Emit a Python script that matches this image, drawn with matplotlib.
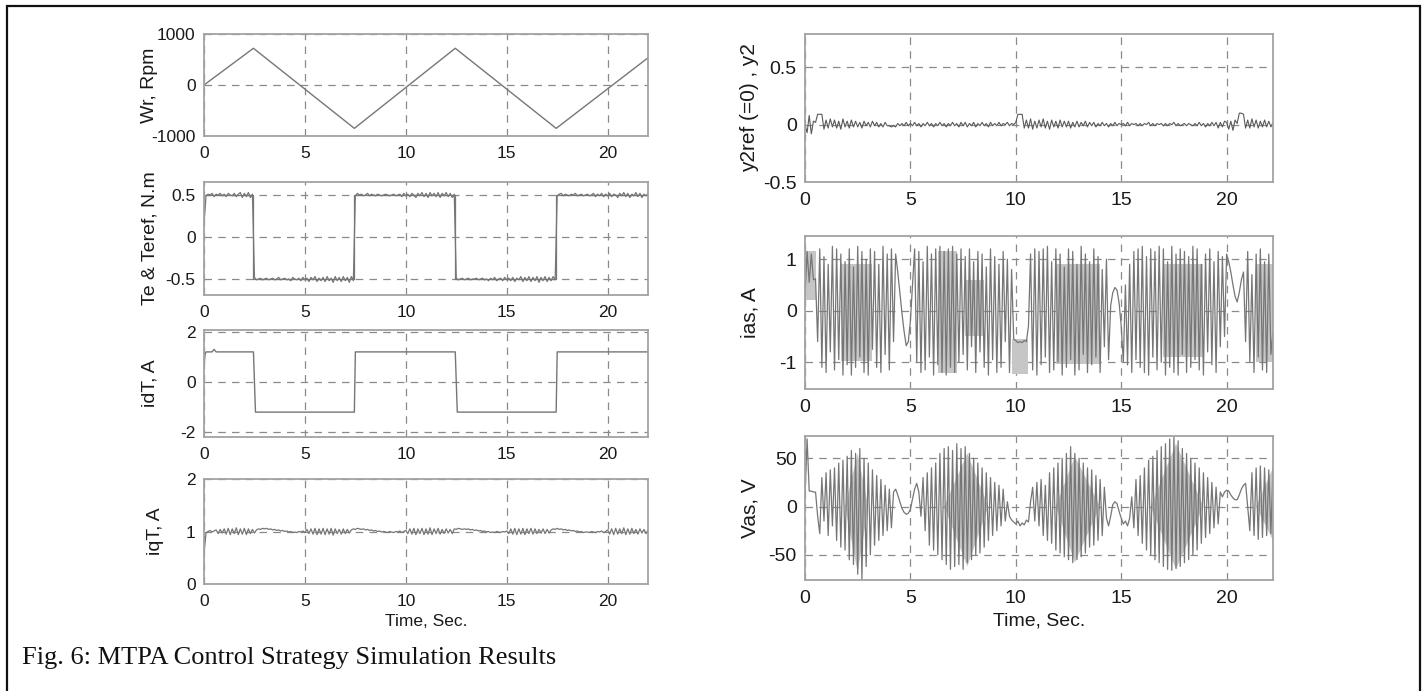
"""
plot.py -- MTPA control strategy simulation results (Fig. 6)
Seven MATLAB-style traces, 4 on the left, 3 on the right.
"""

import numpy as np
import matplotlib.pyplot as plt
from matplotlib.patches import Rectangle

plt.rcParams["font.family"] = ["Liberation Sans", "DejaVu Sans"]
plt.rcParams["axes.unicode_minus"] = False

# ----------------------------------------------------------------------------
# DATA
# ----------------------------------------------------------------------------

# common sample grid for the noisy traces, 0.1 s step
t_s = np.linspace(0.0, 22.2, 223)

# rotor speed, triangle wave (break points)
wr_t = [0.0, 2.45, 7.45, 12.45, 17.45, 22.2]
wr_v = [0.0, 720.0, -850.0, 720.0, -850.0, 594.0]

# torque reference (square wave)
teref_t = [0.1, 2.45, 2.45, 7.45, 7.45, 12.45, 12.45, 17.45, 17.45, 22.2]
teref_v = [0.5, 0.5, -0.5, -0.5, 0.5, 0.5, -0.5, -0.5, 0.5, 0.5]

# electromagnetic torque, sampled every 0.1 s
te = [
    0.15, 0.49, 0.51, 0.50, 0.52, 0.48, 0.51, 0.50, 0.52, 0.49,
    0.51, 0.48, 0.52, 0.50, 0.49, 0.52, 0.48, 0.51, 0.53, 0.47,
    0.52, 0.48, 0.53, 0.47, 0.51, -0.48, -0.51, -0.50, -0.49, -0.51,
    -0.50, -0.49, -0.51, -0.50, -0.49, -0.51, -0.50, -0.48, -0.51, -0.50,
    -0.49, -0.51, -0.50, -0.52, -0.48, -0.50, -0.51, -0.49, -0.52, -0.48,
    -0.51, -0.49, -0.53, -0.48, -0.51, -0.47, -0.53, -0.49, -0.52, -0.48,
    -0.53, -0.47, -0.52, -0.49, -0.54, -0.47, -0.52, -0.48, -0.53, -0.47,
    -0.52, -0.48, -0.54, -0.47, -0.52, 0.49, 0.52, 0.50, 0.51, 0.49,
    0.50, 0.52, 0.49, 0.51, 0.50, 0.49, 0.51, 0.50, 0.49, 0.50,
    0.51, 0.50, 0.49, 0.50, 0.51, 0.49, 0.50, 0.51, 0.48, 0.52,
    0.49, 0.51, 0.48, 0.52, 0.50, 0.47, 0.52, 0.49, 0.53, 0.48,
    0.52, 0.47, 0.53, 0.49, 0.52, 0.48, 0.53, 0.47, 0.52, 0.49,
    0.53, 0.48, 0.52, 0.47, 0.51, -0.49, -0.51, -0.50, -0.49, -0.51,
    -0.50, -0.49, -0.51, -0.50, -0.50, -0.49, -0.51, -0.50, -0.49, -0.51,
    -0.50, -0.52, -0.49, -0.51, -0.48, -0.52, -0.50, -0.49, -0.52, -0.48,
    -0.51, -0.49, -0.52, -0.48, -0.53, -0.49, -0.51, -0.47, -0.53, -0.48,
    -0.52, -0.47, -0.53, -0.48, -0.52, -0.47, -0.54, -0.48, -0.52, -0.47,
    -0.53, -0.48, -0.52, -0.47, -0.51, 0.49, 0.51, 0.52, 0.49, 0.51,
    0.50, 0.49, 0.51, 0.50, 0.52, 0.49, 0.50, 0.51, 0.49, 0.50,
    0.51, 0.49, 0.50, 0.52, 0.48, 0.51, 0.49, 0.52, 0.48, 0.51,
    0.49, 0.52, 0.48, 0.51, 0.50, 0.47, 0.52, 0.49, 0.53, 0.48,
    0.52, 0.47, 0.51, 0.49, 0.53, 0.48, 0.52, 0.47, 0.51, 0.49,
    0.52, 0.48, 0.50,
]

# d-axis current (break points)
idt_t = [0.0, 0.05, 0.1, 0.4, 0.5, 0.6, 2.45, 2.55, 7.45, 7.5, 12.45, 12.55,
         17.45, 17.5, 22.2]
idt_v = [0.6, 1.1, 1.22, 1.22, 1.32, 1.22, 1.22, -1.2, -1.2, 1.22, 1.22, -1.2,
         -1.2, 1.22, 1.22]

# q-axis current, sampled every 0.1 s
iqt = [
    0.58, 0.97, 1.00, 1.02, 0.99, 1.01, 1.03, 0.96, 1.04, 0.97,
    1.05, 0.95, 1.06, 0.94, 1.05, 0.96, 1.07, 0.94, 1.05, 0.95,
    1.06, 0.94, 1.05, 0.96, 1.04, 0.97, 1.03, 1.05, 1.04, 1.06,
    1.05, 1.06, 1.04, 1.05, 1.03, 1.04, 1.02, 1.03, 1.01, 1.02,
    1.00, 1.01, 0.99, 1.00, 0.98, 0.99, 0.98, 1.00, 0.99, 1.01,
    0.98, 1.04, 0.96, 1.05, 0.95, 1.06, 0.94, 1.05, 0.95, 1.06,
    0.94, 1.05, 0.95, 1.06, 0.93, 1.05, 0.96, 1.04, 0.95, 1.05,
    0.96, 1.04, 0.97, 1.03, 1.05, 1.04, 1.06, 1.05, 1.04, 1.05,
    1.03, 1.04, 1.02, 1.03, 1.01, 1.02, 1.00, 1.01, 0.99, 1.00,
    0.99, 0.98, 1.00, 0.99, 0.98, 1.00, 0.99, 1.01, 0.98, 1.00,
    1.02, 0.96, 1.05, 0.95, 1.06, 0.94, 1.05, 0.96, 1.06, 0.94,
    1.05, 0.95, 1.07, 0.94, 1.05, 0.96, 1.06, 0.95, 1.04, 0.96,
    1.05, 0.97, 1.04, 0.96, 1.05, 1.04, 1.06, 1.05, 1.04, 1.05,
    1.04, 1.05, 1.03, 1.04, 1.02, 1.03, 1.01, 1.02, 1.00, 1.01,
    0.99, 1.00, 0.98, 0.99, 0.98, 1.00, 0.99, 0.98, 1.00, 0.99,
    1.01, 0.96, 1.05, 0.95, 1.06, 0.94, 1.05, 0.95, 1.06, 0.94,
    1.05, 0.96, 1.06, 0.95, 1.05, 0.96, 1.04, 0.97, 1.05, 0.96,
    1.04, 0.97, 1.03, 1.05, 1.04, 1.06, 1.04, 1.05, 1.03, 1.04,
    1.02, 1.03, 1.01, 1.02, 1.00, 1.01, 0.99, 1.00, 0.98, 0.99,
    0.99, 0.98, 1.00, 0.99, 0.98, 1.00, 0.99, 1.01, 0.98, 1.00,
    1.03, 0.95, 1.05, 0.94, 1.06, 0.95, 1.05, 0.96, 1.07, 0.94,
    1.05, 0.95, 1.06, 0.96, 1.04, 0.95, 1.05, 0.97, 1.04, 0.96,
    1.03, 0.98, 1.00,
]

# y2 output (reference y2ref = 0), sampled every 0.1 s
y2 = [
    0.00, -0.07, 0.08, -0.08, 0.03, 0.02, 0.09, 0.09, 0.09, -0.04,
    0.04, -0.03, 0.05, -0.02, 0.04, -0.03, 0.03, -0.04, 0.05, -0.02,
    0.03, -0.03, 0.04, -0.02, 0.03, -0.02, 0.02, -0.03, 0.03, -0.01,
    0.02, -0.02, 0.03, -0.01, 0.02, -0.02, 0.01, -0.02, 0.02, -0.01,
    -0.01, -0.02, -0.01, -0.02, 0.01, -0.01, 0.01, -0.01, 0.02, -0.01,
    0.01, -0.01, 0.02, -0.01, 0.01, -0.02, 0.01, -0.01, 0.02, -0.01,
    0.01, -0.02, 0.01, -0.01, 0.02, -0.01, 0.01, -0.02, 0.01, -0.01,
    0.02, -0.01, 0.01, -0.02, 0.02, -0.01, 0.02, -0.02, 0.01, -0.01,
    0.02, -0.02, 0.01, -0.01, 0.02, -0.01, 0.01, -0.02, 0.02, -0.01,
    0.01, -0.01, 0.02, -0.01, 0.01, 0.00, 0.02, -0.01, 0.01, 0.00,
    0.02, 0.09, 0.09, 0.09, -0.03, 0.04, -0.03, 0.05, -0.04, 0.03,
    -0.03, 0.04, -0.02, 0.05, -0.03, 0.03, -0.04, 0.04, -0.02, 0.03,
    -0.03, 0.04, -0.02, 0.03, -0.02, 0.03, -0.03, 0.02, -0.02, 0.03,
    -0.02, 0.02, -0.01, 0.03, -0.02, 0.02, -0.01, 0.02, -0.02, 0.01,
    -0.01, 0.02, -0.01, 0.01, -0.02, 0.01, -0.01, 0.02, -0.01, 0.01,
    0.00, 0.01, -0.01, 0.02, -0.01, 0.01, 0.00, 0.01, -0.01, 0.01,
    -0.01, 0.01, 0.00, 0.02, -0.01, 0.01, -0.01, 0.01, 0.00, 0.01,
    -0.01, 0.01, -0.01, 0.01, 0.00, 0.02, -0.01, 0.01, -0.01, 0.00,
    0.01, -0.01, 0.01, 0.00, -0.01, 0.01, -0.01, 0.02, -0.01, 0.01,
    -0.02, 0.01, -0.01, 0.02, -0.01, 0.02, -0.03, 0.02, -0.02, 0.03,
    0.02, -0.04, 0.03, -0.05, 0.04, 0.01, 0.10, 0.10, 0.09, -0.03,
    0.04, -0.03, 0.05, -0.02, 0.04, -0.03, 0.03, -0.02, 0.04, -0.02,
    0.03, -0.02, 0.02,
]

# phase current ias, sampled every 0.1 s
ias = [
    0.30, 1.15, 0.55, 1.10, 0.60, 0.62, -0.60, 1.20, -1.10, 1.05,
    -1.20, 0.90, -0.80, 1.25, -1.15, 1.20, -0.95, 1.10, -1.25, 0.95,
    -1.05, 1.20, -1.25, 0.85, -1.10, 1.25, -0.90, 1.15, -1.20, 1.00,
    -1.25, 1.20, -0.75, 1.15, -1.10, 0.90, -1.20, 1.25, -0.85, 1.10,
    -1.15, 1.20, -0.60, 1.10, 0.75, 0.35, -0.05, -0.40, -0.68, -0.60,
    -0.20, 0.50, 1.20, -1.00, 1.15, -1.20, 0.95, -1.15, 1.25, -0.90,
    1.10, -1.25, 1.20, -1.05, 1.25, -1.20, 1.15, -1.25, 1.20, -1.10,
    1.25, -1.20, 1.10, -1.00, 1.20, -0.85, 1.05, -1.15, 1.20, -0.70,
    0.95, -1.20, 1.15, -0.80, 1.10, -1.10, 0.85, -1.25, 1.20, -0.95,
    1.05, -1.20, 0.90, -1.10, 1.15, -0.60, 1.00, -1.20, 0.80, -0.55,
    -0.58, -0.62, -0.60, -0.62, -0.58, -0.60, -0.30, 1.10, -1.15, 1.20,
    -1.25, 1.15, -1.05, 1.20, -0.90, 1.25, -1.20, 0.95, -1.15, 1.20,
    -1.00, 1.10, -1.25, 0.85, -1.10, 1.20, -0.95, 1.15, -1.25, 0.90,
    -1.15, 1.25, -0.85, 1.10, -1.20, 0.95, -1.05, 1.20, -0.90, 1.05,
    -1.20, 0.80, -0.70, 1.00, -0.95, 0.10, 0.35, 0.45, 0.40, 0.15,
    -0.30, -1.00, 0.50, -1.05, 0.90, -1.20, 1.15, -0.95, 1.20, -1.10,
    1.25, -1.20, 1.05, -1.25, 1.20, -0.90, 1.15, -1.15, 1.25, -1.00,
    1.20, -1.25, 0.95, -1.10, 1.25, -1.20, 1.10, -1.25, 1.20, -0.85,
    1.15, -1.20, 1.05, -1.10, 1.25, -0.95, 1.20, -1.15, 0.90, -1.25,
    1.10, -0.80, 1.20, -1.05, 0.95, -1.20, 1.15, -0.70, 1.05, -0.50,
    1.10, 0.95, 0.75, 0.50, 0.28, 0.17, 0.35, 0.60, 0.75, -0.60,
    1.15, -1.00, 0.70, -1.20, 1.10, -0.90, 1.20, -1.15, 0.95, -1.20,
    1.10, -0.85, -0.40,
]

# dense (grey) bands of ias: start, end, low, high
ias_band_t0 = [0.0, 1.7, 6.3, 7.6, 9.8, 11.9, 17.0, 21.4]
ias_band_t1 = [0.5, 3.2, 7.2, 8.5, 10.6, 14.0, 18.9, 22.2]
ias_band_lo = [0.2, -0.97, -1.2, -0.5, -1.22, -1.03, -0.9, -1.0]
ias_band_hi = [1.15, 0.9, 1.15, 0.6, -0.55, 0.9, 0.9, 0.9]

# phase voltage Vas, sampled every 0.1 s
vas = [
    10, 70, 16, 16, 15, 15, -10, -28, 30, -15,
    35, -30, 38, -20, 40, -35, 45, -42, 48, -45,
    52, -55, 58, -60, 55, -70, 60, -75, 50, -62,
    45, -50, 38, -40, 32, -35, 28, -30, 22, -25,
    18, -22, 15, 18, 12, 5, -2, -6, -8, -7,
    -3, 8, 18, 24, 15, -10, 30, -25, 35, -40,
    40, -45, 45, -50, 55, -55, 60, -60, 62, -65,
    58, -62, 65, -60, 60, -65, 62, -58, 55, -55,
    50, -50, 45, -48, 40, -42, 35, -35, 30, -30,
    25, -25, 22, -20, 18, -15, 5, -10, -14, -16,
    -18, -15, -20, -17, -19, -14, -16, 5, 20, -15,
    25, -20, 28, -30, 22, -35, 35, -38, 40, -45,
    45, -48, 50, -52, 55, -55, 62, -58, 55, -55,
    50, -52, 45, -48, 40, -42, 38, -40, 32, -35,
    28, -30, 20, -12, -20, -10, 2, 5, 3, -5,
    -12, -18, -15, -20, -12, 10, -22, 28, -30, 32,
    -38, 40, -45, 48, -50, 52, -55, 58, -58, 62,
    -62, 65, -65, 70, -66, 72, -64, 68, -62, 60,
    -58, 55, -55, 50, -50, 45, -45, 40, -38, 35,
    -32, 30, -28, 25, -22, 20, -18, 15, 10, 15,
    17, 16, 12, 9, 7, 7, 12, 18, 22, 24,
    -1, -25, 35, -30, 40, -34, 42, -32, 40, -30,
    38, -28, 40,
]

# dense (grey) diamonds of Vas: start, peak, end, high, low
vas_blob_t0 = [1.9, 6.6, 11.9, 16.4, 21.4]
vas_blob_tc = [2.5, 7.7, 12.8, 17.6, 22.2]
vas_blob_t1 = [3.0, 8.7, 14.0, 18.9, 22.2]
vas_blob_hi = [55, 55, 52, 65, 40]
vas_blob_lo = [-68, -62, -58, -65, -35]

# axis ticks and labels
x_ticks = [0, 5, 10, 15, 20]
x_ticklabels = ["0", "5", "10", "15", "20"]

# ----------------------------------------------------------------------------
# FIGURE LAYOUT (pixel boxes of the scanned figure)
# ----------------------------------------------------------------------------

W, H = 1427, 691
fig = plt.figure(figsize=(W / 100, H / 100), dpi=100)

TRACE = "#767676"
BAND = "#c6c6c6"
FRAME = "#a2a2a2"
GRID = "#8a8a8a"


def px_axes(x0, x1, top, bot):
    return fig.add_axes([x0 / W, 1 - bot / H, (x1 - x0) / W, (bot - top) / H])


def style(ax, xmax, ylim, yticks, ylabels, ylab, fs_tick, fs_lab, lab_x):
    ax.set_xlim(0, xmax)
    ax.set_ylim(*ylim)
    ax.set_xticks(x_ticks)
    ax.set_xticklabels(x_ticklabels)
    ax.set_yticks(yticks)
    ax.set_yticklabels(ylabels)
    ax.tick_params(length=0, labelsize=fs_tick, colors="#1a1a1a", pad=6)
    ax.tick_params(axis="x", pad=7)
    for s in ax.spines.values():
        s.set_color(FRAME)
        s.set_linewidth(1.3)
    ax.grid(True, linestyle=(0, (6, 5)), color=GRID, linewidth=0.9)
    ax.set_axisbelow(True)
    ax.set_ylabel(ylab, fontsize=fs_lab, color="#1a1a1a", va="center")
    ax.yaxis.set_label_coords(lab_x, 0.5)


# left column
L0, L1 = 204, 648
ax_wr = px_axes(L0, L1, 34, 136)
ax_te = px_axes(L0, L1, 182, 295)
ax_id = px_axes(L0, L1, 330, 437)
ax_iq = px_axes(L0, L1, 479, 584)

# right column
R0, R1 = 805, 1273
ax_y2 = px_axes(R0, R1, 34, 182)
ax_ia = px_axes(R0, R1, 236, 389)
ax_va = px_axes(R0, R1, 436, 580)

# ----------------------------------------------------------------------------
# TRACES
# ----------------------------------------------------------------------------

ax_wr.plot(wr_t, wr_v, color=TRACE, lw=1.0)
ax_te.plot(teref_t, teref_v, color=TRACE, lw=0.9)
ax_te.plot(t_s, te, color=TRACE, lw=0.9)
ax_id.plot(idt_t, idt_v, color=TRACE, lw=1.0)
ax_iq.plot(t_s, iqt, color=TRACE, lw=0.9)
ax_y2.plot(t_s, y2, color="#5a5a5a", lw=0.8)

for a, b, lo, hi in zip(ias_band_t0, ias_band_t1, ias_band_lo, ias_band_hi):
    ax_ia.fill_between([a, b], [lo, lo], [hi, hi], color=BAND, lw=0)
ax_ia.plot(t_s, ias, color=TRACE, lw=0.9)

for a, c, b, hi, lo in zip(vas_blob_t0, vas_blob_tc, vas_blob_t1,
                           vas_blob_hi, vas_blob_lo):
    ax_va.fill([a, c, b, c], [0, hi, 0, lo], color=BAND, lw=0)
ax_va.plot(t_s, vas, color=TRACE, lw=0.9)

# ----------------------------------------------------------------------------
# AXES STYLE
# ----------------------------------------------------------------------------

style(ax_wr, 22, (-1000, 1000), [-1000, 0, 1000], ["-1000", "0", "1000"],
      "Wr, Rpm", 12.5, 14, -0.122)
style(ax_te, 22, (-0.69, 0.655), [-0.5, 0, 0.5], ["-0.5", "0", "0.5"],
      "Te & Teref, N.m", 12.5, 14, -0.122)
style(ax_id, 22, (-2.2, 2.1), [-2, 0, 2], ["-2", "0", "2"],
      "idT, A", 12.5, 14, -0.122)
style(ax_iq, 22, (0, 2), [0, 1, 2], ["0", "1", "2"],
      "iqT, A", 12.5, 14, -0.11)
ax_iq.set_xlabel("Time, Sec.", fontsize=12.5, color="#1a1a1a", labelpad=4)

style(ax_y2, 22.2, (-0.5, 0.79), [-0.5, 0, 0.5], ["-0.5", "0", "0.5"],
      "y2ref (=0) , y2", 14, 15, -0.118)
style(ax_ia, 22.2, (-1.52, 1.45), [-1, 0, 1], ["-1", "0", "1"],
      "ias, A", 14, 15, -0.118)
style(ax_va, 22.2, (-76, 73), [-50, 0, 50], ["-50", "0", "50"],
      "Vas, V", 14, 15, -0.118)
ax_va.set_xlabel("Time, Sec.", fontsize=14, color="#1a1a1a", labelpad=4)

# ----------------------------------------------------------------------------
# FRAME AND CAPTION
# ----------------------------------------------------------------------------

fig.patches.append(Rectangle((7 / W, -0.01), (1420 - 7) / W, 1 - 6 / H + 0.01,
                             transform=fig.transFigure, fill=False,
                             edgecolor="#111111", linewidth=1.6))
fig.text(22 / W, 1 - 658 / H, "Fig. 6: MTPA Control Strategy Simulation Results",
         family=["Liberation Serif", "DejaVu Serif"], fontsize=19,
         ha="left", va="center", color="#111111")

fig.savefig("out.png", dpi=100)
